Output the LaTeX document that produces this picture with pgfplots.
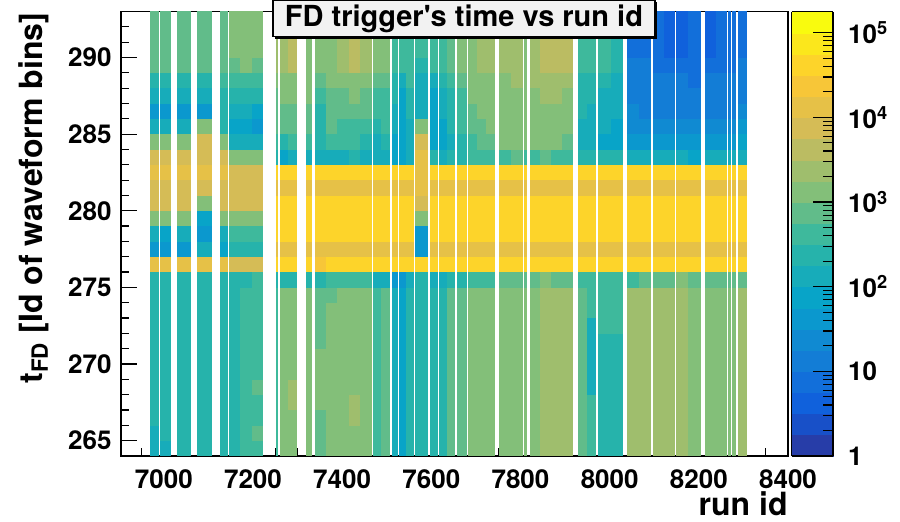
\documentclass[border=0pt]{standalone}
\usepackage{fontspec}
\setmainfont{TeX Gyre Heros}
\usepackage{pgfplots}
\usepackage{pgfplotstable}
\pgfplotsset{compat=1.18}
\usetikzlibrary{shadows}
\definecolor{titlefill}{rgb}{0.95,0.95,0.95}
\newcommand\tickfont{\bfseries\fontsize{13}{15}\selectfont}
\newcommand\labfont{\bfseries\fontsize{16}{19}\selectfont}

\pgfdeclareplotmark{cell}{%
  \pgfmathsetmacro\cellhw{\cellw*0.111465+0.12}%
  \pgfpathrectangle{\pgfpoint{-\cellhw pt}{-3.95pt}}{\pgfpoint{2*\cellhw pt}{7.9pt}}%
  \pgfusepathqfill}

% x = run-id centre of a group of runs, w = its width in run ids,
% r0..r28 = log10(entries) in the t_FD bins 264..292
\pgfplotstableread{
x w r0 r1 r2 r3 r4 r5 r6 r7 r8 r9 r10 r11 r12 r13 r14 r15 r16 r17 r18 r19 r20 r21 r22 r23 r24 r25 r26 r27 r28
6978.5 19.5 2.1 2.2 2.3 2.3 2.3 2.3 2.3 2.3 2.3 2.3 2.3 2.3 4.2 1.65 2.0 3.2 3.85 3.9 4.15 3.85 3.2 2.15 1.6 2.1 2.4 2.8 2.8 2.8 2.85
7003.5 22 2.2 2.25 2.3 2.3 2.3 2.3 2.3 2.3 2.3 2.3 2.3 2.3 4.2 1.7 1.9 3.15 3.85 3.9 4.15 3.85 3.2 2.2 1.7 2.1 2.4 2.8 2.8 2.8 2.85
7045 30 2.3 2.3 2.3 2.35 2.3 2.3 2.3 2.3 2.3 2.3 2.3 2.3 4.2 1.7 2.0 3.1 3.85 3.9 4.15 3.85 3.2 2.2 1.7 2.15 2.4 2.8 2.8 2.8 2.85
7091 31 2.35 2.35 2.35 2.35 2.35 2.35 2.35 2.35 2.35 2.35 2.35 2.35 4.15 2.2 1.65 1.9 3.2 3.85 4.1 3.85 3.85 3.15 1.6 2.2 2.4 2.8 2.8 2.8 2.85
7134 17 2.35 2.35 2.35 2.35 2.35 2.35 2.35 2.35 2.35 2.35 2.35 2.35 4.05 1.8 2.15 3.05 3.9 3.95 4.1 3.8 3.15 2.3 2.25 2.4 2.5 2.8 2.8 2.8 2.85
7159 26 2.35 2.4 2.4 2.4 2.4 2.4 2.45 2.4 2.4 2.4 2.4 2.4 3.9 2.4 2.6 3.2 3.85 3.9 3.9 3.1 2.05 1.8 2.15 2.35 2.65 2.95 3.0 3.0 3.0
7185 26 2.5 2.5 2.55 2.5 2.5 2.5 2.5 2.55 2.5 2.5 2.5 2.45 3.9 2.4 2.6 3.2 3.85 3.9 3.9 3.1 2.0 1.75 2.1 2.3 2.7 3.0 3.05 3.1 3.1
7210.5 25 2.7 2.75 2.7 2.7 2.75 2.7 2.7 2.7 2.65 2.6 2.6 2.5 3.9 2.45 2.6 3.2 3.85 3.9 3.9 3.15 2.0 1.6 1.9 2.3 2.7 2.95 3.0 3.0 3.0
7254.5 4 2.5 2.5 2.5 2.5 2.5 2.5 2.5 2.5 2.5 2.5 2.5 2.3 4.6 4.15 4.6 4.65 4.65 4.15 4.65 2.3 2.6 2.9 2.9 2.9 3.1 3.3 3.3 3.3 3.3
7270.5 18 3.1 3.1 3.05 3.1 3.1 3.1 3.1 3.1 3.1 3.05 3.0 2.35 4.65 4.15 4.65 4.7 4.7 4.2 4.7 1.95 2.4 2.75 2.85 3.1 3.2 3.4 3.45 3.4 3.5
7288.5 18 3.15 3.1 3.15 3.3 3.3 3.15 3.15 3.15 3.1 3.1 3.05 2.3 4.65 4.15 4.65 4.7 4.7 4.2 4.7 2.0 2.5 2.8 2.9 3.0 3.2 3.6 3.6 3.5 3.6
7325.5 11 3.05 3.05 3.05 3.05 3.05 3.05 3.05 3.05 3.05 3.05 3.05 2.4 4.6 4.15 4.6 4.65 4.65 4.15 4.65 2.0 2.5 2.8 2.9 3.0 3.0 3.1 3.1 3.1 3.1
7351.5 25.5 2.8 2.85 2.9 3.0 3.0 3.0 3.0 2.95 2.9 2.85 2.8 2.4 4.45 4.1 4.5 4.55 4.5 4.1 4.5 2.1 2.3 2.3 2.4 2.7 2.9 3.1 3.1 3.1 3.1
7377 25.5 3.1 3.1 3.15 3.1 3.1 3.1 3.1 3.1 3.05 3.0 2.95 2.5 4.55 4.15 4.6 4.6 4.6 4.15 4.6 2.2 2.5 2.8 2.8 2.8 3.0 3.2 3.2 3.2 3.2
7402.5 25.5 3.15 3.15 3.15 3.2 3.15 3.15 3.15 3.15 3.1 3.1 3.05 2.5 4.6 4.15 4.6 4.65 4.65 4.15 4.65 2.2 2.5 2.7 2.9 2.9 3.1 3.3 3.3 3.3 3.3
7428 25.5 3.2 3.2 3.3 3.3 3.2 3.2 3.2 3.2 3.15 3.15 3.1 2.6 4.65 4.15 4.65 4.7 4.7 4.15 4.7 2.3 2.5 2.7 2.9 3.0 3.2 3.6 3.65 3.6 3.6
7453 25.5 3.15 3.15 3.15 3.15 3.15 3.15 3.15 3.15 3.1 3.1 3.05 2.5 4.6 4.15 4.6 4.65 4.65 4.15 4.65 2.2 2.4 2.6 2.8 2.9 3.1 3.3 3.3 3.3 3.3
7479 18 2.7 2.7 2.7 2.7 2.7 2.7 2.7 2.7 2.7 2.7 2.7 2.1 4.6 4.15 4.6 4.65 4.65 4.15 4.65 2.0 2.2 2.4 2.5 2.6 2.8 3.0 3.0 3.0 3.0
7497.5 19 2.9 2.9 2.9 2.9 2.9 2.9 2.9 2.9 2.9 2.9 2.9 2.2 4.6 4.15 4.6 4.65 4.65 4.15 4.65 2.0 2.3 2.5 2.6 2.7 2.9 3.1 3.1 3.1 3.1
7518 12 2.2 2.2 2.2 2.2 2.2 2.2 2.2 2.2 2.2 2.2 2.2 1.7 4.6 4.15 4.6 4.65 4.65 4.15 4.65 1.8 1.9 2.1 2.2 2.3 2.4 2.6 2.6 2.6 2.6
7536 15.5 1.85 1.85 1.85 1.85 1.85 1.85 1.85 1.85 1.85 1.85 1.85 1.7 4.6 4.15 4.6 4.65 4.65 4.15 4.65 1.9 1.75 1.8 1.8 1.9 2.2 2.5 2.5 2.5 2.5
7552 15.5 2.3 2.3 2.3 2.3 2.3 2.3 2.3 2.3 2.3 2.3 2.3 2.0 4.6 4.15 4.6 4.65 4.65 4.15 4.65 2.0 2.1 2.2 2.3 2.4 2.5 2.6 2.6 2.6 2.6
7578.5 28.5 2.4 2.4 2.4 2.4 2.4 2.4 2.4 2.4 2.4 2.4 2.4 2.3 4.5 1.7 1.65 3.2 3.85 4.15 4.2 4.2 3.9 3.2 2.1 2.1 2.2 2.4 2.5 2.5 2.5
7605.5 16 2.4 2.4 2.4 2.4 2.4 2.4 2.4 2.4 2.4 2.4 2.4 2.1 4.6 4.15 4.6 4.65 4.65 4.15 4.65 2.3 1.9 1.9 1.8 1.9 2.0 2.5 2.5 2.5 2.5
7626 17.5 2.35 2.35 2.35 2.35 2.35 2.35 2.35 2.35 2.35 2.35 2.35 2.2 4.6 4.15 4.6 4.65 4.65 4.15 4.65 2.2 1.9 1.9 2.0 2.1 2.3 2.7 2.7 2.7 2.7
7644 17.5 2.8 2.8 2.8 2.8 2.8 2.8 2.8 2.8 2.8 2.8 2.8 2.3 4.6 4.15 4.6 4.65 4.65 4.15 4.65 2.3 2.2 2.3 2.3 2.4 2.6 2.9 2.9 2.9 2.9
7668 21.5 2.9 2.9 2.9 2.9 2.9 2.9 2.9 2.9 2.9 2.9 2.9 2.4 4.6 4.15 4.6 4.65 4.65 4.15 4.65 2.4 2.4 2.5 2.6 2.7 2.9 3.0 3.0 3.0 3.0
7692.5 20 3.1 3.1 3.1 3.1 3.1 3.1 3.1 3.1 3.1 3.1 3.1 2.6 4.6 4.15 4.6 4.65 4.65 4.15 4.65 2.5 2.7 2.8 2.9 3.0 3.1 3.2 3.2 3.2 3.2
7712.5 20 3.15 3.15 3.15 3.15 3.15 3.15 3.15 3.15 3.15 3.15 3.15 2.7 4.6 4.15 4.6 4.65 4.65 4.15 4.65 2.5 2.8 2.9 3.0 3.0 3.2 3.4 3.4 3.4 3.4
7732.5 20 3.2 3.2 3.2 3.2 3.2 3.2 3.2 3.2 3.2 3.2 3.2 2.7 4.6 4.15 4.6 4.65 4.65 4.15 4.65 2.6 2.8 3.0 3.0 3.1 3.2 3.3 3.3 3.3 3.3
7765 27 3.15 3.15 3.15 3.15 3.15 3.15 3.15 3.15 3.15 3.15 3.15 2.9 4.6 4.15 4.6 4.65 4.65 4.15 4.65 2.7 3.0 3.0 3.1 3.1 3.2 3.35 3.35 3.35 3.35
7792 27 3.2 3.2 3.2 3.2 3.2 3.2 3.2 3.2 3.2 3.2 3.2 2.9 4.6 4.15 4.6 4.65 4.65 4.15 4.65 2.8 3.0 3.1 3.1 3.2 3.3 3.4 3.4 3.4 3.4
7812 5 3.1 3.1 3.1 3.1 3.1 3.1 3.1 3.1 3.1 3.1 3.1 2.8 4.6 4.15 4.6 4.65 4.65 4.15 4.65 2.6 3.0 3.0 3.0 3.0 3.0 3.2 3.2 3.2 3.2
7833 24.3 3.2 3.2 3.2 3.2 3.2 3.2 3.2 3.2 3.2 3.2 3.2 2.9 4.6 4.15 4.6 4.65 4.65 4.15 4.65 2.7 3.0 3.1 3.2 3.2 3.3 3.4 3.4 3.4 3.4
7857 24.3 3.3 3.3 3.3 3.3 3.3 3.3 3.3 3.3 3.3 3.3 3.3 3.0 4.6 4.15 4.6 4.65 4.65 4.15 4.65 2.8 3.1 3.2 3.2 3.3 3.4 3.5 3.5 3.5 3.5
7881.5 24.3 3.3 3.3 3.3 3.3 3.3 3.3 3.3 3.3 3.3 3.3 3.3 2.9 4.6 4.15 4.6 4.65 4.65 4.15 4.65 2.7 3.0 3.1 3.2 3.3 3.4 3.55 3.55 3.55 3.55
7905.5 24.3 3.25 3.25 3.25 3.25 3.25 3.25 3.25 3.25 3.25 3.25 3.25 2.9 4.6 4.15 4.6 4.65 4.65 4.15 4.65 2.6 2.9 3.0 3.1 3.2 3.3 3.5 3.5 3.5 3.5
7939 19.4 2.75 2.75 2.75 2.75 2.75 2.75 2.75 2.75 2.75 2.75 2.75 2.6 4.6 4.15 4.6 4.65 4.65 4.15 4.65 2.4 2.1 2.2 2.3 2.3 2.4 2.7 2.7 2.7 2.7
7958.5 19.4 2.5 2.5 2.5 2.5 2.2 2.2 2.2 2.2 2.2 2.5 2.5 2.5 4.6 4.15 4.6 4.65 4.65 4.15 4.65 2.4 2.1 2.2 2.2 2.3 2.4 2.6 2.6 2.6 2.6
7989 27.2 2.3 2.3 2.3 2.3 2.3 2.3 2.3 2.3 2.6 2.6 2.6 2.7 4.6 4.15 4.6 4.65 4.65 4.15 4.65 2.4 1.9 2.0 2.1 2.2 2.3 2.5 2.5 2.5 2.5
8016.5 27.2 2.4 2.4 2.4 2.4 2.4 2.4 2.4 2.4 2.7 2.7 2.7 2.7 4.6 4.15 4.6 4.65 4.65 4.15 4.65 2.4 1.8 1.9 2.0 2.1 2.2 2.4 2.4 2.4 2.4
8052 26.5 3.3 3.3 3.3 3.3 3.3 3.3 3.3 3.3 3.3 3.3 3.3 2.7 4.6 4.15 4.6 4.65 4.65 4.15 4.65 2.05 1.6 1.4 1.25 1.2 1.2 1.05 0.9 0.9 0.9
8079 26.5 3.4 3.4 3.4 3.4 3.4 3.4 3.4 3.4 3.4 3.4 3.4 2.8 4.6 4.15 4.6 4.65 4.65 4.15 4.65 2.1 1.65 1.4 1.2 1.15 1.1 1.0 0.85 0.85 0.85
8110.5 23.5 3.45 3.45 3.45 3.45 3.45 3.45 3.45 3.45 3.45 3.45 3.45 2.95 4.6 4.15 4.6 4.65 4.65 4.15 4.65 2.0 1.6 1.35 1.15 1.1 1.05 0.9 0.8 0.8 0.8
8134 23.5 3.35 3.35 3.35 3.35 3.35 3.35 3.35 3.35 3.35 3.35 3.35 2.95 4.6 4.15 4.6 4.65 4.65 4.15 4.65 2.0 1.6 1.3 1.1 1.05 1.0 0.85 0.6 0.6 0.6
8163 27.3 3.35 3.35 3.35 3.35 3.35 3.35 3.35 3.35 3.35 3.35 3.35 3.0 4.6 4.15 4.6 4.65 4.65 4.15 4.65 2.0 1.6 1.3 1.1 1.0 1.0 0.85 0.7 0.7 0.7
8190.5 27.3 3.2 3.2 3.2 3.2 3.2 3.2 3.2 3.2 3.2 3.2 3.2 2.9 4.6 4.15 4.6 4.65 4.65 4.15 4.65 1.95 1.55 1.3 1.1 1.0 0.95 0.8 0.75 0.75 0.75
8226 23.5 3.1 3.1 3.1 3.1 3.1 3.1 3.1 3.1 3.1 3.1 3.1 2.9 4.6 4.15 4.6 4.65 4.65 4.15 4.65 2.0 1.6 1.35 1.1 1.05 1.0 0.8 0.6 0.6 0.6
8250 23.5 3.2 3.2 3.2 3.2 3.2 3.2 3.2 3.2 3.2 3.2 3.2 2.9 4.6 4.15 4.6 4.65 4.65 4.15 4.65 2.05 1.65 1.35 1.15 1.05 1.0 0.9 0.8 0.8 0.8
8268 5 3.0 3.0 3.0 3.0 3.0 3.0 3.0 3.0 3.0 3.0 3.0 2.9 4.6 4.15 4.6 4.65 4.65 4.15 4.65 2.0 1.6 1.35 1.15 1.05 1.0 0.9 0.85 0.85 0.85
8279 9.5 3.2 3.2 3.2 3.2 3.2 3.2 3.2 3.2 3.2 3.2 3.2 2.9 4.6 4.15 4.6 4.65 4.65 4.15 4.65 2.0 1.6 1.35 1.15 1.1 1.05 0.95 0.9 0.9 0.9
8298 20 3.3 3.3 3.3 3.3 3.3 3.3 3.3 3.3 3.3 3.3 3.3 2.9 4.6 4.15 4.6 4.65 4.65 4.15 4.65 2.2 1.75 1.5 1.25 1.2 1.15 1.0 0.95 0.95 0.95
}\celldata

\pgfplotsset{cellrow/.style={only marks, scatter, mark=cell, point meta=explicit,
  scatter/use mapped color={draw=none,fill=mapped color},
  visualization depends on={\thisrow{w}\as\cellw}}}

\begin{document}
\begin{tikzpicture}
\begin{axis}[
  name=main,
  scale only axis, width=333.5pt, height=222.25pt,
  xmin=6904, xmax=8400, ymin=264, ymax=293,
  xtick={7000,7200,7400,7600,7800,8000,8200,8400},
  minor xtick={6950,7050,7100,7150,7250,7300,7350,7450,7500,7550,7650,7700,7750,7850,7900,7950,8050,8100,8150,8250,8300,8350},
  ytick={265,270,275,280,285,290},
  minor ytick={266,267,268,269,271,272,273,274,276,277,278,279,281,282,283,284,286,287,288,289,291,292},
  tick pos=left,
  tick align=inside,
  major tick length=8pt, minor tick length=4pt,
  every tick/.style={black, line width=0.6pt},
  axis line style={line width=0.7pt},
  axis on top,
  /pgf/number format/assume math mode=true,
  /pgf/number format/1000 sep={},
  tick label style={font=\tickfont},
  xticklabel style={yshift=-3.5pt},
  yticklabel style={xshift=-1.2pt},
  point meta min=0, point meta max=5.25,
  colormap={rootbird}{rgb=(0.152,0.239,0.657) rgb=(0.095,0.313,0.786) rgb=(0.062,0.380,0.864) rgb=(0.069,0.435,0.853) rgb=(0.076,0.490,0.841) rgb=(0.063,0.543,0.825) rgb=(0.042,0.595,0.807) rgb=(0.030,0.645,0.785) rgb=(0.090,0.674,0.728) rgb=(0.150,0.703,0.671) rgb=(0.245,0.724,0.610) rgb=(0.379,0.736,0.542) rgb=(0.512,0.748,0.475) rgb=(0.625,0.744,0.428) rgb=(0.735,0.738,0.384) rgb=(0.835,0.738,0.336) rgb=(0.902,0.758,0.278) rgb=(0.970,0.778,0.219) rgb=(0.991,0.832,0.163) rgb=(0.984,0.907,0.109) rgb=(0.976,0.983,0.054)},
  colormap access=piecewise constant,
  colorbar, colorbar/width=20.75pt,
  colorbar style={
    at={(parent axis.north east)}, anchor=north west, xshift=-6.75pt,
    ytick={0,1,2,3,4,5},
    yticklabels={1,10,10\textsuperscript{2},10\textsuperscript{3},10\textsuperscript{4},10\textsuperscript{5}},
    minor ytick={0.30103,0.47712,0.60206,0.69897,0.77815,0.8451,0.90309,0.95424,1.30103,1.47712,1.60206,1.69897,1.77815,1.8451,1.90309,1.95424,2.30103,2.47712,2.60206,2.69897,2.77815,2.8451,2.90309,2.95424,3.30103,3.47712,3.60206,3.69897,3.77815,3.8451,3.90309,3.95424,4.30103,4.47712,4.60206,4.69897,4.77815,4.8451,4.90309,4.95424},
    ytick pos=right, yticklabel pos=right,
    tick align=inside, axis on top,
    major tick length=10pt, minor tick length=5pt,
    every tick/.style={black, line width=0.6pt},
    axis line style={line width=0.6pt},
    yticklabel style={font=\tickfont, xshift=4pt},
  },
  title={FD trigger\textquotesingle s time vs run id},
  title style={at={(axis description cs:0.5142,1)}, anchor=north, yshift=0pt,
    fill=titlefill, draw=black, line width=0.6pt,
    minimum width=191pt, minimum height=18.3pt, inner sep=0pt,
    font=\bfseries\fontsize{14.5}{17}\selectfont,
    drop shadow={shadow xshift=1.1pt, shadow yshift=-1.1pt, fill=black, opacity=1}},
  xlabel={run id},
  xlabel style={font=\labfont, at={(axis description cs:1,0)}, anchor=north east, yshift=-17.5pt, inner sep=0pt},
  ylabel={t\textsubscript{FD} [Id of waveform bins]},
  ylabel style={font=\labfont, at={(axis description cs:-0.1305,1)}, anchor=east, inner sep=0.5pt},
]
\addplot[cellrow] table[x=x,y expr=264.5,meta=r0]{\celldata};
\addplot[cellrow] table[x=x,y expr=265.5,meta=r1]{\celldata};
\addplot[cellrow] table[x=x,y expr=266.5,meta=r2]{\celldata};
\addplot[cellrow] table[x=x,y expr=267.5,meta=r3]{\celldata};
\addplot[cellrow] table[x=x,y expr=268.5,meta=r4]{\celldata};
\addplot[cellrow] table[x=x,y expr=269.5,meta=r5]{\celldata};
\addplot[cellrow] table[x=x,y expr=270.5,meta=r6]{\celldata};
\addplot[cellrow] table[x=x,y expr=271.5,meta=r7]{\celldata};
\addplot[cellrow] table[x=x,y expr=272.5,meta=r8]{\celldata};
\addplot[cellrow] table[x=x,y expr=273.5,meta=r9]{\celldata};
\addplot[cellrow] table[x=x,y expr=274.5,meta=r10]{\celldata};
\addplot[cellrow] table[x=x,y expr=275.5,meta=r11]{\celldata};
\addplot[cellrow] table[x=x,y expr=276.5,meta=r12]{\celldata};
\addplot[cellrow] table[x=x,y expr=277.5,meta=r13]{\celldata};
\addplot[cellrow] table[x=x,y expr=278.5,meta=r14]{\celldata};
\addplot[cellrow] table[x=x,y expr=279.5,meta=r15]{\celldata};
\addplot[cellrow] table[x=x,y expr=280.5,meta=r16]{\celldata};
\addplot[cellrow] table[x=x,y expr=281.5,meta=r17]{\celldata};
\addplot[cellrow] table[x=x,y expr=282.5,meta=r18]{\celldata};
\addplot[cellrow] table[x=x,y expr=283.5,meta=r19]{\celldata};
\addplot[cellrow] table[x=x,y expr=284.5,meta=r20]{\celldata};
\addplot[cellrow] table[x=x,y expr=285.5,meta=r21]{\celldata};
\addplot[cellrow] table[x=x,y expr=286.5,meta=r22]{\celldata};
\addplot[cellrow] table[x=x,y expr=287.5,meta=r23]{\celldata};
\addplot[cellrow] table[x=x,y expr=288.5,meta=r24]{\celldata};
\addplot[cellrow] table[x=x,y expr=289.5,meta=r25]{\celldata};
\addplot[cellrow] table[x=x,y expr=290.5,meta=r26]{\celldata};
\addplot[cellrow] table[x=x,y expr=291.5,meta=r27]{\celldata};
\addplot[cellrow] table[x=x,y expr=292.5,meta=r28]{\celldata};
\end{axis}
\pgfresetboundingbox
\path[use as bounding box] ([xshift=-60.5pt,yshift=-32.5pt]main.south west) rectangle ++(450pt,260.5pt);
\end{tikzpicture}
\end{document}
